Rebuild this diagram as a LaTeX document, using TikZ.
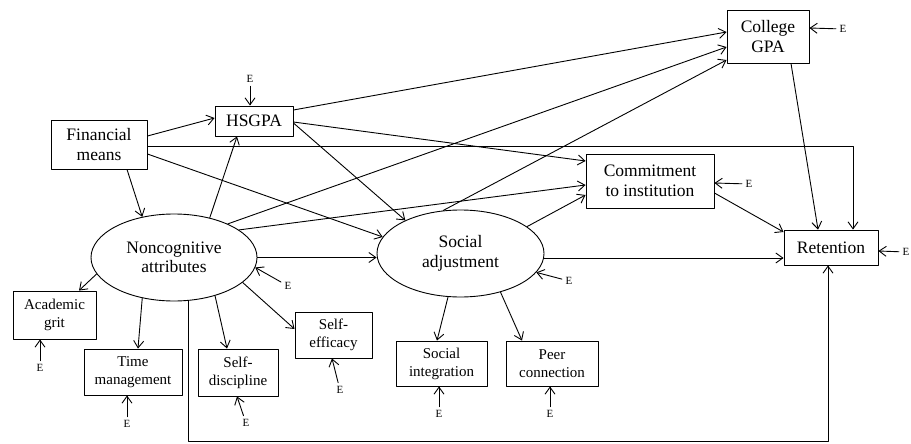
\documentclass[tikz,border=0pt]{standalone}
\usepackage{fontspec}
\setmainfont{Liberation Serif}
\usetikzlibrary{arrows.meta,shapes.geometric}

\begin{document}
\begin{tikzpicture}[
    x=1pt,
    y=-1pt,
    line cap=round,
    line join=round,
    big/.style={font=\fontsize{17.5}{19.5}\selectfont},
    small/.style={font=\fontsize{15}{18}\selectfont},
    box/.style={draw,line width=0.9pt,align=center,inner sep=0pt},
    latent/.style={draw,ellipse,line width=0.9pt,align=center,inner sep=0pt,big},
    err/.style={inner sep=3.5pt,font=\fontsize{11}{13}\selectfont},
    link/.style={line width=0.9pt,-{Straight Barb[length=7pt,width=10pt]}}
]

\useasboundingbox (0,0) rectangle (911,444);

% -------------------------------------------------
% Конструкты
% -------------------------------------------------

\node[box,big,minimum width=96,minimum height=49] (fin)    at (99,144.5)  {Financial\\means};
\node[box,big,minimum width=78,minimum height=30] (hsgpa)  at (254,121)   {HSGPA};
\node[box,big,minimum width=82,minimum height=53] (cgpa)   at (768,36.5)  {College\\GPA};
\node[box,big,minimum width=128,minimum height=54] (commit) at (650,181)  {Commitment\\to institution};
\node[box,big,minimum width=94,minimum height=35] (ret)    at (831,247.5) {Retention};

\node[latent,minimum width=166,minimum height=87] (noncog) at (174,257.5) {Noncognitive\\attributes};
\node[latent,minimum width=167,minimum height=87] (social) at (460.5,253.5) {Social\\adjustment};

% -------------------------------------------------
% Индикаторы
% -------------------------------------------------

\node[box,small,minimum width=83,minimum height=48] (grit)  at (54.5,315)   {Academic\\grit};
\node[box,small,minimum width=98,minimum height=46] (time)  at (133,372)    {Time\\management};
\node[box,small,minimum width=80,minimum height=47] (disc)  at (238,372.5)  {Self-\\discipline};
\node[box,small,minimum width=77,minimum height=46] (effic) at (333.5,335)  {Self-\\efficacy};
\node[box,small,minimum width=91,minimum height=45] (sint)  at (441.5,363.5) {Social\\integration};
\node[box,small,minimum width=92,minimum height=45] (peer)  at (552,363.5)  {Peer\\connection};

% -------------------------------------------------
% Ошибки
% -------------------------------------------------

\node[err] (ecgpa)   at (843,29)  {E};
\node[err] (ecommit) at (749,184) {E};
\node[err] (eret)    at (906,252) {E};
\node[err] (ehsgpa)  at (250,79)  {E};
\node[err] (enoncog) at (288,286) {E};
\node[err] (esocial) at (569,281) {E};
\node[err] (egrit)   at (40,368)  {E};
\node[err] (etime)   at (127,424) {E};
\node[err] (edisc)   at (246,423) {E};
\node[err] (eeffic)  at (340,390) {E};
\node[err] (esint)   at (439,414) {E};
\node[err] (epeer)   at (550,414) {E};

\coordinate (loop) at (828,441);

% -------------------------------------------------
% Связи
% -------------------------------------------------

% Financial means
\draw[link] ([yshift=8.5]fin.east) -- ([yshift=3]hsgpa.west);
\draw[link] ([xshift=28]fin.south) -- (noncog.128);
\draw[link] ([yshift=-1.5]fin.east) -| ([xshift=22]ret.north);
\draw[link] ([yshift=-9.5]fin.east) -- (social.168);

% HSGPA
\draw[link] ([yshift=11]hsgpa.east) -- ([yshift=4.5]cgpa.west);
\draw[link] ([yshift=-1]hsgpa.east) -- ([yshift=20]commit.west);
\draw[link] ([yshift=-2]hsgpa.east) -- (social.149);

% Noncognitive attributes
\draw[link] (noncog.48) -- ([xshift=-17]hsgpa.south);
\draw[link] (noncog.32) -- ([yshift=-10.5]cgpa.west);
\draw[link] (noncog.23) -- ([yshift=-4]commit.west);
\draw[link] (noncog.east) -- (noncog.east -| social.west);
\draw[link] (noncog.192) -- ([xshift=24.5]grit.north);
\draw[link] (noncog.232) -- ([xshift=5]time.north);
\draw[link] (noncog.317) -- ([xshift=-11]disc.north);
\draw[link] (noncog.340) -- ([yshift=6]effic.west);
\draw[link] (noncog.289) |- (loop) -- ([xshift=-3]ret.south);

% Social adjustment
\draw[link] (social.112) -- ([yshift=-23.5]cgpa.west);
\draw[link] (social.22) -- ([yshift=-14]commit.west);
\draw[link] ([yshift=-4.5]social.east) -- ([yshift=-10.5]ret.west);
\draw[link] (social.254) -- ([xshift=-4.5]sint.north);
\draw[link] (social.316) -- ([xshift=-30]peer.north);

% College GPA, Commitment
\draw[link] ([xshift=23]cgpa.south) -- ([xshift=-13]ret.north);
\draw[link] ([yshift=-12]commit.east) -- ([yshift=15.5]ret.west);

% Ошибки
\draw[link] (ecgpa) -- ([yshift=8.5]cgpa.east);
\draw[link] (ecommit) -- ([yshift=-2]commit.east);
\draw[link] (eret) -- ([yshift=-3.5]ret.east);
\draw[link] (ehsgpa) -- ([xshift=-4]hsgpa.north);
\draw[link] (enoncog) -- (noncog.353);
\draw[link] (esocial) -- (social.346);
\draw[link] (egrit) -- ([xshift=-14.5]grit.south);
\draw[link] (etime) -- ([xshift=-6]time.south);
\draw[link] (edisc) -- ([xshift=-1]disc.south);
\draw[link] (eeffic) -- ([xshift=-1.5]effic.south);
\draw[link] (esint) -- ([xshift=-2.5]sint.south);
\draw[link] (epeer) -- ([xshift=-2]peer.south);

\end{tikzpicture}
\end{document}
